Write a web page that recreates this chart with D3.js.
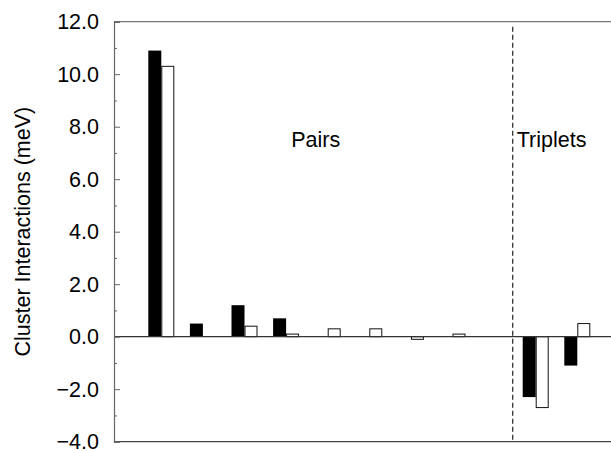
<!DOCTYPE html>
<html>
<head>
<meta charset="utf-8">
<script src="https://cdn.jsdelivr.net/npm/d3@7"></script>
<style>
  body { margin: 0; background: #fff; }
  text { font-family: "Liberation Sans", Arial, Helvetica, sans-serif; }
</style>
</head>
<body>
<div id="chart"></div>
<script>
/* cluster slots: 8 pair clusters, an empty slot, 2 triplet clusters */
var categories = ["P1", "P2", "P3", "P4", "P5", "P6", "P7", "P8", "gap", "T1", "T2"];
var seriesNames = ["black", "white"];
var blackValues = [10.9, 0.5, 1.2, 0.7, 0.0, 0.0, 0.0, 0.0, null, -2.3, -1.1];
var whiteValues = [10.3, 0.0, 0.4, 0.1, 0.3, 0.3, -0.1, 0.1, null, -2.7, 0.5];
var majorTicks = [-4, -2, 0, 2, 4, 6, 8, 10, 12];
var minorTicks = [-3, -1, 1, 3, 5, 7, 9, 11];
var groupLabels = [{text: "Pairs", at: "P5"}, {text: "Triplets", at: "T1"}];

var width = 611, height = 451;
/* plot box (window.top is reserved, so prefixed names) */
var plotLeft = 114, plotRight = 611, plotTop = 21.7, plotBottom = 441.7;

var svg = d3.select("#chart").append("svg")
    .attr("width", width)
    .attr("height", height);

/* scales */
var x = d3.scaleBand()
    .domain(categories)
    .range([140.5, 598.1])
    .paddingInner(0.375)
    .paddingOuter(0.1875);

var xs = d3.scaleBand()
    .domain(seriesNames)
    .range([0, x.bandwidth()]);

var y = d3.scaleLinear()
    .domain([-4, 12])
    .range([plotBottom, plotTop]);

/* build bar records from the arrays */
var bars = [];
categories.forEach(function(c, i) {
    if (blackValues[i] !== null) bars.push({cat: c, s: "black", v: blackValues[i]});
    if (whiteValues[i] !== null) bars.push({cat: c, s: "white", v: whiteValues[i]});
});

/* frame: top and bottom lines */
svg.append("line")
    .attr("x1", plotLeft).attr("x2", plotRight)
    .attr("y1", plotTop).attr("y2", plotTop)
    .style("stroke", "#777").style("stroke-width", 1.2);
svg.append("line")
    .attr("x1", plotLeft).attr("x2", plotRight)
    .attr("y1", plotBottom).attr("y2", plotBottom)
    .style("stroke", "#444").style("stroke-width", 1.2);

/* bars */
svg.append("g").selectAll("rect")
    .data(bars.filter(function(d) { return d.v !== 0; }))
    .enter().append("rect")
    .attr("x", function(d) { return x(d.cat) + xs(d.s) + (d.s == "white" ? 0.5 : 0); })
    .attr("width", function(d) { return xs.bandwidth() - (d.s == "white" ? 1 : 0); })
    .attr("y", function(d) { return y(Math.max(0, d.v)); })
    .attr("height", function(d) { return Math.abs(y(d.v) - y(0)); })
    .style("fill", function(d) { return d.s == "black" ? "#000" : "#fff"; })
    .style("stroke", function(d) { return d.s == "black" ? "none" : "#111"; })
    .style("stroke-width", 1);

/* zero line */
svg.append("line")
    .attr("x1", plotLeft).attr("x2", plotRight)
    .attr("y1", y(0)).attr("y2", y(0))
    .style("stroke", "#333").style("stroke-width", 1.2);

/* dashed separator between pairs and triplets */
var sepX = x("T1") - x.step() * 0.24;
svg.append("line")
    .attr("x1", sepX).attr("x2", sepX)
    .attr("y1", plotTop + 5).attr("y2", plotBottom)
    .style("stroke", "#222")
    .style("stroke-width", 1.2)
    .style("stroke-dasharray", "5,3");

/* y axis, ticks point inward */
var yAxis = d3.axisLeft(y)
    .tickValues(majorTicks)
    .tickSize(-6)
    .tickPadding(15)
    .tickFormat(d3.format(".1f"));

var gy = svg.append("g")
    .attr("transform", "translate(" + plotLeft + ",0)")
    .call(yAxis);
gy.select(".domain").style("stroke", "#666").style("stroke-width", 1.2);
gy.selectAll(".tick line").style("stroke", "#666");
gy.selectAll(".tick text")
    .style("font-size", "21.5px")
    .style("fill", "#000");

var gyMinor = svg.append("g")
    .attr("transform", "translate(" + plotLeft + ",0)")
    .call(d3.axisLeft(y).tickValues(minorTicks).tickSize(-3).tickFormat(""));
gyMinor.select(".domain").remove();
gyMinor.selectAll(".tick line").style("stroke", "#666");

/* axis title */
svg.append("text")
    .attr("transform", "translate(30," + ((plotTop + plotBottom) / 2) + ") rotate(-90)")
    .attr("text-anchor", "middle")
    .style("font-size", "21.5px")
    .text("Cluster Interactions (meV)");

/* group labels */
svg.selectAll(".grp")
    .data(groupLabels)
    .enter().append("text")
    .attr("class", "grp")
    .attr("x", function(d) {
        return d.text == "Pairs" ? x(d.at) + 1 : sepX + 4;
    })
    .attr("y", 147)
    .attr("text-anchor", function(d) { return d.text == "Pairs" ? "middle" : "start"; })
    .style("font-size", "21.5px")
    .text(function(d) { return d.text; });
</script>
</body>
</html>
